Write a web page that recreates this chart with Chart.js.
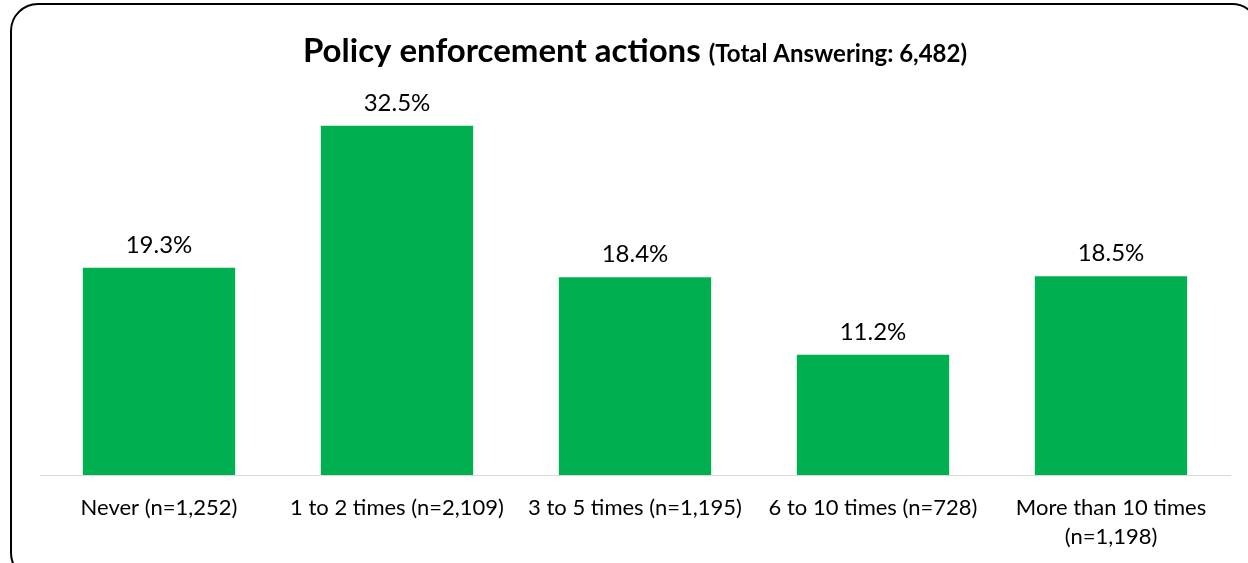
<!DOCTYPE html>
<html>
<head>
<meta charset="utf-8">
<script src="https://cdn.jsdelivr.net/npm/chart.js@4"></script>
<style>
  html, body { margin: 0; padding: 0; background: #fff; overflow: hidden; }
  .wrap { position: relative; width: 1248px; height: 563px; }
  .frame {
    position: absolute; left: 10px; top: 3px; width: 1250px; height: 578px;
    border: 2px solid #000; border-radius: 28px; box-sizing: border-box;
  }
  canvas { position: absolute; left: 0; top: 0; }
</style>
</head>
<body>
<div class="wrap">
  <div class="frame"></div>
  <canvas id="enforcementChart" width="1248" height="563"></canvas>
</div>
<script>
  // Survey answers
  const categories = [
    'Never (n=1,252)',
    '1 to 2 times (n=2,109)',
    '3 to 5 times (n=1,195)',
    '6 to 10 times (n=728)',
    ['More than 10 times', '(n=1,198)']
  ];
  const shares = [19.3, 32.5, 18.4, 11.2, 18.5];
  const titleMain = 'Policy enforcement actions';
  const titleNote = '(Total Answering: 6,482)';

  const FONT = 'Lato, "Open Sans", sans-serif';

  // Two-size title drawn centred over the plot area
  const titlePlugin = {
    id: 'twoPartTitle',
    afterDraw(chart) {
      const ctx = chart.ctx;
      const area = chart.chartArea;
      ctx.save();
      ctx.fillStyle = '#000';
      ctx.textBaseline = 'alphabetic';
      const mainFont = 'bold 33px ' + FONT;
      const noteFont = 'bold 24px ' + FONT;
      ctx.font = mainFont;
      const w1 = ctx.measureText(titleMain + ' ').width;
      ctx.font = noteFont;
      const w2 = ctx.measureText(titleNote).width;
      let x = (area.left + area.right) / 2 - (w1 + w2) / 2;
      ctx.textAlign = 'left';
      ctx.font = mainFont;
      ctx.fillText(titleMain + ' ', x, 62);
      ctx.font = noteFont;
      ctx.fillText(titleNote, x + w1, 62);
      ctx.restore();
    }
  };

  // Percent labels above each bar
  const valueLabels = {
    id: 'valueLabels',
    afterDatasetsDraw(chart) {
      const ctx = chart.ctx;
      const meta = chart.getDatasetMeta(0);
      ctx.save();
      ctx.font = '24px ' + FONT;
      ctx.fillStyle = '#000';
      ctx.textAlign = 'center';
      ctx.textBaseline = 'alphabetic';
      meta.data.forEach((bar, i) => {
        ctx.fillText(shares[i].toFixed(1) + '%', bar.x, bar.y - 15);
      });
      ctx.restore();
    }
  };

  new Chart(document.getElementById('enforcementChart'), {
    type: 'bar',
    data: {
      labels: categories,
      datasets: [{
        data: shares,
        backgroundColor: '#00b050',
        borderWidth: 0,
        barPercentage: 0.64,
        categoryPercentage: 1.0
      }]
    },
    options: {
      responsive: false,
      animation: false,
      layout: { padding: { top: 99, left: 40, right: 18, bottom: 0 } },
      plugins: {
        legend: { display: false },
        tooltip: { enabled: false }
      },
      scales: {
        x: {
          grid: { display: false, drawTicks: false },
          border: { display: true, color: '#d9d9d9', width: 1 },
          ticks: {
            color: '#000',
            padding: 18,
            maxRotation: 0,
            autoSkip: false,
            font: { family: FONT, size: 22, lineHeight: 1.32 }
          },
          afterFit(scale) { scale.height = 88; }
        },
        y: {
          display: false,
          min: 0,
          max: 35
        }
      }
    },
    plugins: [titlePlugin, valueLabels]
  });
</script>
</body>
</html>
